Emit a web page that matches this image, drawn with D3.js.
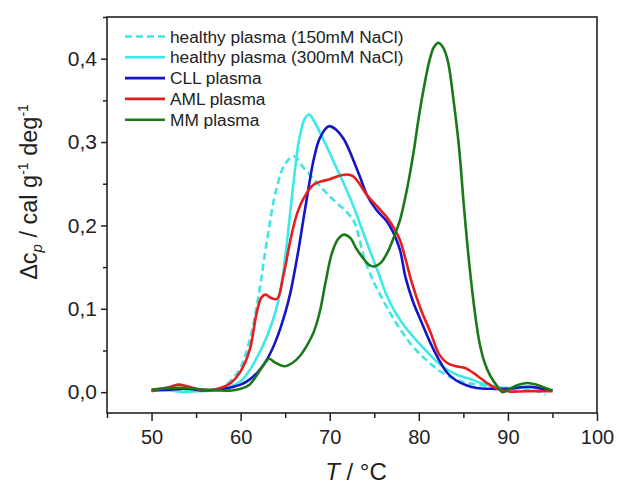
<!DOCTYPE html>
<html>
<head>
<meta charset="utf-8">
<script src="https://cdn.jsdelivr.net/npm/d3@7"></script>
<style>
  body { margin: 0; background: #fff; }
  svg { display: block; font-family: "Liberation Sans", Arial, sans-serif; }
</style>
</head>
<body>
<svg id="chart" width="622" height="486"></svg>
<script>
// DSC curves, [T in °C, delta cp in cal/g/deg]
const healthy150 = [
  [50,.002],[52,.003],[54,.003],[56,.002],[57,.003],[58,.006],[59,.015],[60,.03],[61,.062],
  [62,.115],[63,.185],[64,.243],[65,.274],[66,.283],[67,.27],[68,.258],[69,.246],[70,.235],
  [71,.225],[72,.215],[72.8,.203],[73.3,.185],[74,.157],[75,.131],[76,.11],[77,.091],[78,.074],
  [79,.059],[80,.047],[81,.037],[82,.028],[83,.021],[84,.016],[85,.012],[86,.01],[88,.007],
  [90,.005],[92,.004],[93.3,.001],[94.2,-.003]
];
const healthy300 = [
  [50,.002],[52,.002],[53.5,0],[55,.001],[57,.002],[58,.004],[59,.007],[60,.013],[61,.026],
  [62,.045],[63,.068],[64,.1],[64.6,.13],[65.2,.18],[65.9,.248],[66.6,.305],[67.2,.328],
  [67.7,.333],[68.3,.324],[69.2,.305],[70,.287],[70.8,.268],[71.8,.245],[72.7,.222],[73.6,.196],
  [74.5,.17],[75.5,.142],[76.4,.116],[77.4,.095],[78.4,.079],[79.4,.066],[80.5,.053],[81.5,.042],
  [82.5,.032],[83.5,.025],[84.5,.02],[85.7,.016],[87,.011],[88.5,.007],[90,.004],[92,.006],
  [94,.003],[95,.002]
];
const cll = [
  [50,.002],[52,.003],[54,.004],[56,.002],[58,.004],[59,.006],[60,.009],[61,.015],[62,.025],
  [63,.04],[64,.063],[65,.095],[65.6,.12],[66.4,.165],[67.1,.211],[67.7,.25],[68.2,.279],
  [68.9,.305],[69.9,.319],[70.8,.314],[71.6,.303],[72.2,.29],[72.7,.277],[73.4,.258],[74.2,.236],
  [75.2,.219],[76.4,.205],[77.2,.19],[77.9,.17],[78.5,.138],[79.3,.11],[80.3,.084],[81.3,.059],
  [82.2,.04],[83.2,.023],[84.2,.014],[85.4,.008],[86.5,.005],[88,.004],[90,.004],[92.5,.0065],
  [94,.004],[95,.002]
];
const aml = [
  [50,.001],[51,.004],[52,.006],[53,.009],[54,.007],[55,.004],[56,.002],[57,.003],[58,.006],
  [59,.012],[60,.025],[61,.05],[61.8,.095],[62.3,.113],[62.8,.117],[63.4,.113],[64.1,.112],
  [64.8,.14],[65.6,.183],[66.3,.213],[67.1,.233],[68.2,.249],[69.1,.253],[69.9,.255],[70.9,.259],
  [71.9,.261],[72.6,.259],[73.2,.252],[74.2,.236],[75.3,.223],[76.4,.21],[77.2,.197],[77.9,.182],
  [78.5,.16],[79.2,.132],[80.2,.1],[81.3,.072],[82.3,.045],[83.2,.035],[84.2,.031],[85.2,.029],
  [86,.024],[86.9,.017],[87.8,.01],[88.6,.005],[90,.001],[92,.001],[95,.001]
];
const mm = [
  [50,.003],[51,.004],[52,.005],[54,.005],[56,.003],[57.5,.002],[59,.002],[60,.004],[61,.009],
  [61.8,.02],[62.6,.033],[63.2,.04],[63.8,.036],[64.9,.031],[65.8,.035],[66.7,.044],[67.5,.057],
  [68.2,.072],[68.9,.097],[69.5,.13],[70.2,.165],[70.9,.183],[71.6,.189],[72.3,.185],[73,.172],
  [73.8,.16],[74.5,.152],[75.1,.151],[75.8,.156],[76.5,.168],[77.2,.186],[77.9,.207],[78.7,.245],
  [79.4,.287],[80,.33],[80.6,.367],[81.2,.398],[81.7,.414],[82.2,.419],[82.8,.412],[83.3,.395],
  [83.9,.35],[84.5,.295],[85.1,.218],[85.7,.15],[86.3,.095],[86.8,.06],[87.4,.035],[88,.02],
  [88.8,.007],[89.4,0],[90.2,.004],[91.2,.009],[92.2,.011],[93.2,.009],[94.2,.005],[95,.002]
];

const seriesNames = ['healthy plasma (150mM NaCl)', 'healthy plasma (300mM NaCl)',
                     'CLL plasma', 'AML plasma', 'MM plasma'];
const seriesData = [healthy150, healthy300, cll, aml, mm];
const seriesColors = ['#3fe4e4', '#3fe8e8', '#1515c8', '#e81e1e', '#1a7a1a'];
const seriesDash = ['7,4', null, null, null, null];

const xTicks = [50, 60, 70, 80, 90, 100];
const xMinor = [45, 55, 65, 75, 85, 95];
const yTicks = [0, 0.1, 0.2, 0.3, 0.4];
const yMinor = [0.05, 0.15, 0.25, 0.35, 0.45];

const margin = {top: 17, right: 25, bottom: 73, left: 107},
      width = 622, height = 486,
      innerW = width - margin.left - margin.right,
      innerH = height - margin.top - margin.bottom;

const svg = d3.select('#chart');

const x = d3.scaleLinear().domain([45, 100]).range([0, innerW]);
const y = d3.scaleLinear().domain([-0.025, 0.45]).range([innerH, 0]);

const comma = d3.formatLocale({decimal: ',', thousands: '.', grouping: [3], currency: ['', '']}).format('.1f');

const g = svg.append('g')
    .attr('transform', 'translate(' + margin.left + ',' + margin.top + ')');

// axes
const xAxis = g.append('g')
    .attr('transform', 'translate(0,' + innerH + ')')
    .call(d3.axisBottom(x).tickValues(xTicks).tickSize(8).tickPadding(9));
g.append('g')
    .attr('transform', 'translate(0,' + innerH + ')')
    .call(d3.axisBottom(x).tickValues(xMinor).tickSize(5).tickFormat(''));
const yAxis = g.append('g')
    .call(d3.axisLeft(y).tickValues(yTicks).tickSize(6).tickPadding(4).tickFormat(comma));
g.append('g')
    .call(d3.axisLeft(y).tickValues(yMinor).tickSize(4).tickFormat(''));

g.selectAll('.domain').remove();
g.selectAll('.tick line').attr('stroke', '#222').attr('stroke-width', 1.5);
xAxis.selectAll('text').attr('font-size', 20).attr('fill', '#222');
yAxis.selectAll('text').attr('font-size', 21).attr('fill', '#222');

// frame
g.append('rect')
    .attr('x', 0).attr('y', 0)
    .attr('width', innerW).attr('height', innerH)
    .attr('fill', 'none')
    .attr('stroke', '#222')
    .attr('stroke-width', 1.6);

// curves
const line = d3.line()
    .x(function(d) { return x(d[0]); })
    .y(function(d) { return y(d[1]); })
    .curve(d3.curveCatmullRom.alpha(0.5));

g.selectAll('path.curve')
    .data(seriesData)
    .enter().append('path')
    .attr('class', 'curve')
    .attr('fill', 'none')
    .attr('stroke', function(d, i) { return seriesColors[i]; })
    .attr('stroke-width', 2.6)
    .attr('stroke-dasharray', function(d, i) { return seriesDash[i]; })
    .attr('stroke-linejoin', 'round')
    .attr('d', line);

// legend
const legend = g.selectAll('g.legend')
    .data(seriesNames)
    .enter().append('g')
    .attr('class', 'legend')
    .attr('transform', function(d, i) { return 'translate(18,' + (19.5 + i * 20.8) + ')'; });

legend.append('line')
    .attr('x1', 0).attr('x2', 40)
    .attr('stroke', function(d, i) { return seriesColors[i]; })
    .attr('stroke-width', 2.6)
    .attr('stroke-dasharray', function(d, i) { return seriesDash[i]; });

legend.append('text')
    .attr('x', 45)
    .attr('dy', '0.35em')
    .attr('font-size', 17.3)
    .attr('fill', '#222')
    .text(function(d) { return d; });

// axis titles
const xt = svg.append('text')
    .attr('x', 356).attr('y', 480)
    .attr('text-anchor', 'middle')
    .attr('font-size', 24)
    .attr('fill', '#222');
xt.append('tspan').attr('font-style', 'italic').text('T');
xt.append('tspan').text(' / °C');

const yt = svg.append('text')
    .attr('transform', 'translate(37,192) rotate(-90)')
    .attr('text-anchor', 'middle')
    .attr('font-size', 23.5)
    .attr('fill', '#222');
yt.append('tspan').text('Δc');
yt.append('tspan').attr('font-size', 15).attr('font-style', 'italic').attr('dy', 5).text('p');
yt.append('tspan').attr('dy', -5).text(' / cal g');
yt.append('tspan').attr('font-size', 14).attr('dy', -9).text('-1');
yt.append('tspan').attr('dy', 9).text(' deg');
yt.append('tspan').attr('font-size', 14).attr('dy', -9).text('-1');
</script>
</body>
</html>
